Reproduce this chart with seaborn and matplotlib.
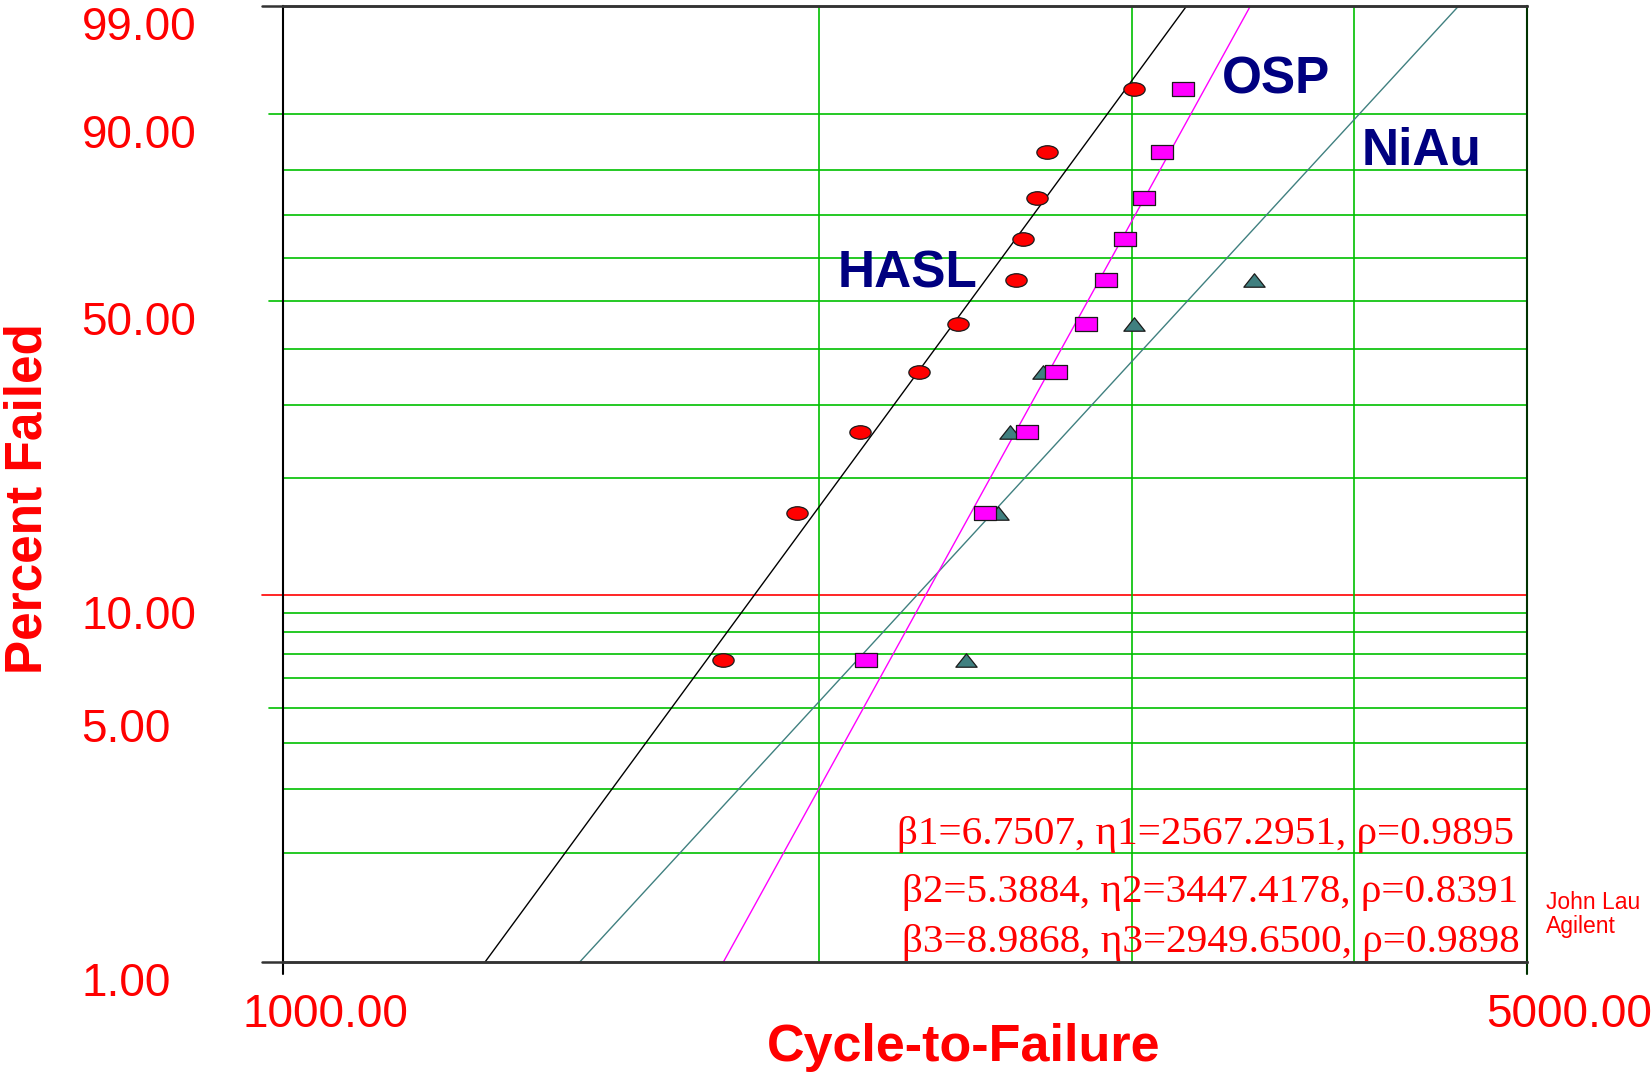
import numpy as np
import matplotlib
matplotlib.use("Agg")
import matplotlib.pyplot as plt
from matplotlib.path import Path
from matplotlib.transforms import ScaledTranslation
from matplotlib.ticker import NullLocator
import seaborn as sns

# median-rank percent failed
pct = [6.73, 16.35, 25.96, 35.58, 45.19, 54.81, 64.42, 74.04, 83.65, 93.27]
niau_pct = [6.73, 16.35, 25.96, 35.58, 45.19, 54.81]

# cycles to failure
hasl = [1768, 1945, 2109, 2276, 2394, 2581, 2606, 2653, 2686, 3009]
osp = [2126, 2480, 2617, 2719, 2825, 2900, 2972, 3046, 3117, 3203]
niau = [2421, 2522, 2560, 2675, 3009, 3511]

# weibull fit parameters (1 = HASL, 2 = NiAu, 3 = OSP)
beta = [6.7507, 5.3884, 8.9868]
eta = [2567.2951, 3447.4178, 2949.6500]
rho = [0.9895, 0.8391, 0.9898]
fit_colors = ["black", "#408080", "#ff00ff"]

grid_pct = [2, 3, 4, 5, 6, 7, 8, 9, 20, 30, 40, 50, 60, 70, 80, 90]
ytick_vals = [1, 5, 10, 50, 90, 99]
ytick_labels = ["1.00", "5.00", "10.00", "50.00", "90.00", "99.00"]
xtick_vals = [1000, 5000]
xtick_labels = ["1000.00", "5000.00"]
xgrid = [2000, 3000, 4000]

sns.set_style("white")
plt.rcParams["font.family"] = ["Liberation Sans", "DejaVu Sans"]

GREEN = "#00c000"


def fwd(p):
    p = np.clip(np.asarray(p, dtype=float), 1e-6, 100 - 1e-6)
    return np.log(-np.log(1 - p / 100.0))


def inv(w):
    return 100.0 * (1 - np.exp(-np.exp(w)))


fig = plt.figure(figsize=(16.52, 10.72), dpi=100)
ax = fig.add_axes([0.1713, 0.1026, 0.753, 0.8918])
ax.set_xscale("log")
ax.set_yscale("function", functions=(fwd, inv))
ax.set_xlim(1000, 5000)
ax.set_ylim(1, 99)

# grid
for p in grid_pct:
    ext = 14 / 1244 if p in (5, 50, 90) else 0
    ax.axhline(p, xmin=-ext, xmax=1, color=GREEN, lw=1.2, zorder=1, clip_on=(ext == 0))
ax.axhline(10, xmin=-21 / 1244, xmax=1, color="red", lw=1.2, zorder=1, clip_on=False)
for xv in xgrid:
    ax.axvline(xv, color=GREEN, lw=1.2, zorder=1)
ax.axhline(99, xmin=-21 / 1244, xmax=1, color="#333333", lw=1.8, zorder=6, clip_on=False)
ax.axhline(1, xmin=-21 / 1244, xmax=1, color="#333333", lw=1.8, zorder=6, clip_on=False)
ax.axvline(1000, ymin=-12 / 956, ymax=0, color="black", lw=1.5, clip_on=False)
ax.axvline(5000, ymin=-12 / 956, ymax=0, color="#003300", lw=1.5, clip_on=False)

# fitted weibull lines, ends at 1% and 99%
for b, e, c in zip(beta, eta, fit_colors):
    ends = np.array([1.0, 99.0])
    xs = e * (-np.log(1 - ends / 100)) ** (1 / b)
    sns.lineplot(x=xs, y=ends, color=c, lw=1.0, ax=ax, zorder=2, sort=False)

# markers
circ = Path.unit_circle()
ellipse = Path(circ.vertices * [1, 0.635], circ.codes)
square = Path([(-1, -0.63), (1, -0.63), (1, 0.63), (-1, 0.63), (-1, -0.63)],
              [Path.MOVETO, Path.LINETO, Path.LINETO, Path.LINETO, Path.CLOSEPOLY])
triangle = Path([(-1, -0.63), (1, -0.63), (0, 0.63), (-1, -0.63)],
                [Path.MOVETO, Path.LINETO, Path.LINETO, Path.CLOSEPOLY])

sns.scatterplot(x=niau, y=niau_pct, marker=triangle, s=235, color="#408080",
                edgecolor="#1a1a1a", linewidth=0.9, ax=ax, zorder=3)
sns.scatterplot(x=hasl, y=pct, marker=ellipse, s=235, color="#ff0000",
                edgecolor="#1a1a1a", linewidth=0.9, ax=ax, zorder=4)
sns.scatterplot(x=osp, y=pct, marker=square, s=235, color="#ff00ff",
                edgecolor="#1a1a1a", linewidth=0.9, ax=ax, zorder=5)

# spines
for side in ["top", "bottom"]:
    ax.spines[side].set_color("#333333")
    ax.spines[side].set_linewidth(1.8)
ax.spines["left"].set_color("black")
ax.spines["left"].set_linewidth(1.5)
ax.spines["right"].set_color("#003300")
ax.spines["right"].set_linewidth(1.5)

# ticks
ax.set_xticks(xtick_vals, xtick_labels)
ax.set_yticks(ytick_vals, ytick_labels)
ax.xaxis.set_minor_locator(NullLocator())
ax.yaxis.set_minor_locator(NullLocator())
ax.tick_params(axis="x", length=0, pad=22, labelsize=33, labelcolor="red")
ax.tick_params(axis="y", length=0, pad=145, labelsize=33, labelcolor="red")
xoff = ScaledTranslation(0.42, 0, fig.dpi_scale_trans)
for lab in ax.get_xticklabels():
    lab.set_transform(lab.get_transform() + xoff)
yoff = ScaledTranslation(0, -0.17, fig.dpi_scale_trans)
for lab in ax.get_yticklabels():
    lab.set_horizontalalignment("left")
    lab.set_transform(lab.get_transform() + yoff)

ax.set_xlabel("Cycle-to-Failure", fontsize=37.5, fontweight="bold", color="red")
ax.xaxis.set_label_coords(0.547, -0.1036)
ax.xaxis.label.set_verticalalignment("baseline")
ax.set_ylabel("Percent Failed", fontsize=37, fontweight="bold", color="red")
ax.yaxis.set_label_coords(-0.205, 0.485)
ax.yaxis.label.set_verticalalignment("center")

# series names
navy = "#000080"
ax.text(0.502, 0.720, "HASL", transform=ax.transAxes, ha="center", va="center",
        fontsize=37, fontweight="bold", color=navy)
ax.text(0.798, 0.9226, "OSP", transform=ax.transAxes, ha="center", va="center",
        fontsize=37, fontweight="bold", color=navy)
ax.text(0.9156, 0.848, "NiAu", transform=ax.transAxes, ha="center", va="center",
        fontsize=37, fontweight="bold", color=navy)

# fit results
lines_y = [0.1234, 0.0628, 0.0105]
lines_x = [0.4936, 0.4976, 0.4976]
for i in range(3):
    txt = f"\u03b2{i+1}={beta[i]:.4f}, \u03b7{i+1}={eta[i]:.4f}, \u03c1={rho[i]:.4f}"
    ax.text(lines_x[i], lines_y[i], txt, transform=ax.transAxes, ha="left",
            va="baseline", fontsize=29.6, color="red",
            family=["Liberation Serif", "DejaVu Serif"])

ax.text(1.0153, 0.0743, "John Lau\nAgilent", transform=ax.transAxes, ha="left",
        va="top", fontsize=16.5, color="red", linespacing=1.05)

fig.savefig("out.png", dpi=100)
